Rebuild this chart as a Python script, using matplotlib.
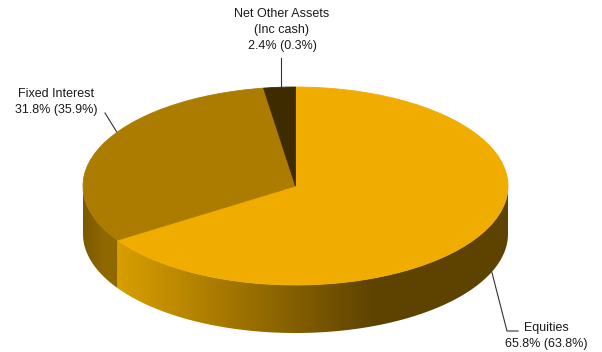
#!/usr/bin/env python3
# Asset allocation shown as a tilted (pseudo 3D) pie with a shaded rim.

import numpy as np
import matplotlib
matplotlib.use('Agg')
import matplotlib.pyplot as plt
from matplotlib.colors import to_rgb
from matplotlib.patches import Polygon

labels = ['Equities', 'Fixed Interest', 'Net Other Assets\n(Inc cash)']
shares = [65.8, 31.8, 2.4]
prior = [63.8, 35.9, 0.3]
top_colors = ['#F0AD00', '#AB7C00', '#3F2B00']

# rim shading per slice: (colour at light end, colour at dark end, light px, dark px)
rim_shading = [('#DFA300', '#5D4200', 105, 375),
               ('#906800', '#7C5A00', 103, 84),
               ('#3F2B00', '#3F2B00', 0, 1)]

W, H = 602, 352
CX, CY = 295.5, 186.0      # ellipse centre in pixels
RX, RY = 212.5, 99.0       # ellipse half axes in pixels
DEPTH = 48.0 / RY          # rim height in unit coordinates


def px(x, y):
    """pixel position (y down) -> unit pie coordinates"""
    return (x - CX) / RX, (CY - y) / RY


fig = plt.figure(figsize=(W / 100, H / 100), dpi=100)
ax = fig.add_axes([0, 0, 1, 1])

wedges, _ = ax.pie(shares, colors=top_colors, startangle=90, counterclock=False,
                   radius=1, center=(0, 0), wedgeprops=dict(linewidth=0.6))
for w in wedges:
    w.set_edgecolor(w.get_facecolor())
    w.set_zorder(3)

# rim: front half of the ellipse, split by slice
bounds = 90 - np.concatenate([[0], np.cumsum(shares)]) / sum(shares) * 360
for i in range(len(shares)):
    lo, hi = bounds[i + 1], bounds[i]
    c0, c1, x0, x1 = rim_shading[i]
    for shift in (-360, 0, 360):
        a0, a1 = max(lo + shift, 180), min(hi + shift, 360)
        if a1 <= a0:
            continue
        t = np.radians(np.linspace(a0, a1, 200))
        top = np.column_stack([np.cos(t), np.sin(t)])
        bot = np.column_stack([np.cos(t), np.sin(t) - DEPTH])[::-1]
        poly = Polygon(np.vstack([top, bot]), closed=True, facecolor='none',
                       edgecolor='none', transform=ax.transData)
        ax.add_patch(poly)
        # horizontal gradient clipped to the rim piece
        xs = np.linspace(-1, 1, 600)
        f = np.clip((CX + RX * xs - x0) / (x1 - x0), 0, 1)
        rgb = (1 - f)[:, None] * np.array(to_rgb(c0)) + f[:, None] * np.array(to_rgb(c1))
        img = np.repeat(rgb[None, :, :], 2, axis=0)
        im = ax.imshow(img, extent=(-1, 1, -1 - DEPTH, 0), aspect='auto',
                       interpolation='bilinear', zorder=2)
        im.set_clip_path(poly)

ax.set_xlim(-CX / RX, (W - CX) / RX)
ax.set_ylim((CY - H) / RY, CY / RY)
ax.set_aspect('auto')
ax.axis('off')

font = dict(family='Liberation Sans', fontsize=9, color='#1a1a1a',
            ha='center', va='center', linespacing=1.45, zorder=5)
line = dict(color='#333333', linewidth=0.8, zorder=1)   # leaders sit behind the pie

# Net Other Assets (top)
ax.text(*px(282, 30), f'{labels[2]}\n{shares[2]}% ({prior[2]}%)', **font)
ax.plot(*zip(px(281, 58), px(281, 96)), **line)

# Fixed Interest (left)
ax.text(*px(56, 102), f'{labels[1]}\n{shares[1]}% ({prior[1]}%)', **font)
ax.plot(*zip(px(105, 113), px(118, 134)), **line)

# Equities (bottom right)
ax.text(*px(546, 336), f'{labels[0]}\n{shares[0]}% ({prior[0]}%)', **font)
ax.plot(*zip(px(482, 234), px(507, 331), px(518, 331)), **line)

fig.savefig('out.png', dpi=100)
